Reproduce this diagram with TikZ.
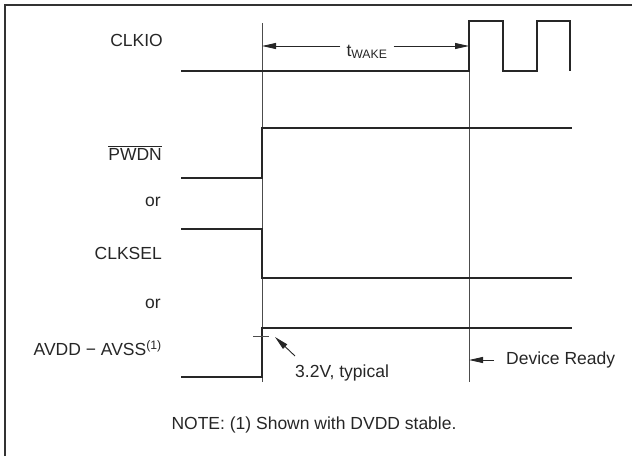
\documentclass[tikz,border=0pt]{standalone}
\usepackage{fontspec}
\setmainfont{Liberation Sans}
\usetikzlibrary{arrows.meta}

\tikzset{
  sig/.style={line width=2.2pt, draw=black!85},
  marker/.style={line width=0.9pt, draw=black!70},
  lbl/.style={anchor=east, inner sep=0pt, text=black!85, font=\fontsize{17.5}{20}\selectfont},
  txt/.style={inner sep=0pt, text=black!85, font=\fontsize{17.5}{20}\selectfont},
  dim/.style={line width=0.9pt, draw=black!85, -{Triangle[length=14pt,width=6pt]}},
}

\begin{document}
\begin{tikzpicture}[x=1pt,y=-1pt]
  \useasboundingbox (0,0) rectangle (632,456);
  % Frame (top and left edges only)
  \draw[line width=2pt, black!80] (4.5,456) -- (4.5,4.5) -- (632,4.5);
  % Marker lines
  \coordinate (m1top) at (262,23);
  \coordinate (m1bot) at (262,382);
  \coordinate (m2top) at (469,21);
  \coordinate (m2bot) at (469,382);
  \draw[marker] (m1top) -- (m1bot);
  \draw[marker] (m2top) -- (m2bot);
  % Signal names
  \node[lbl] (lclkio)  at (163,40)  {CLKIO};
  \node[lbl] (lpwdn)   at (162,153) {$\overline{\mbox{PWDN}}$};
  \node[lbl] (lor1)    at (161,202) {or};
  \node[lbl] (lclksel) at (162,253) {CLKSEL};
  \node[lbl] (lor2)    at (161,304) {or};
  \node[lbl] (lavdd)   at (162,348) {AVDD − AVSS\textsuperscript{(1)}};
  % Waveforms
  \draw[sig] (181,71) -- (469,71) -- (469,21) -- (503,21) -- (503,71)
    -- (537,71) -- (537,21) -- (570,21) -- (570,71);
  \draw[sig] (181,178) -- (262,178) -- (262,128) -- (572,128);
  \draw[sig] (181,229) -- (262,229) -- (262,278) -- (572,278);
  \draw[sig] (181,377) -- (262,377) -- (262,328) -- (572,328);
  % Threshold tick
  \draw[marker] (253,336) -- (269,336);
  % Wake-up time
  \node[txt] (twake) at (367,52) {t\textsubscript{WAKE}};
  \coordinate (wl) at (262,46);
  \coordinate (wr) at (469,46);
  \draw[dim] ([xshift=-6pt]twake.west |- wl) -- (wl);
  \draw[dim] ([xshift=6pt]twake.east |- wr) -- (wr);
  % Threshold note
  \node[txt, anchor=west] (ltyp) at (295,373) {3.2V, typical};
  \coordinate (vtail) at (295,356);
  \coordinate (vth) at (275,337);
  \draw[dim] (vtail) -- (vth);
  % Device ready
  \node[txt, anchor=west] (ldev) at (506,360) {Device Ready};
  \draw[dim] ([xshift=-12pt]ldev.west) -- (ldev.west -| m2bot);
  % Footnote
  \node[txt] (lnote) at (314,425) {NOTE: (1) Shown with DVDD stable.};
\end{tikzpicture}
\end{document}
